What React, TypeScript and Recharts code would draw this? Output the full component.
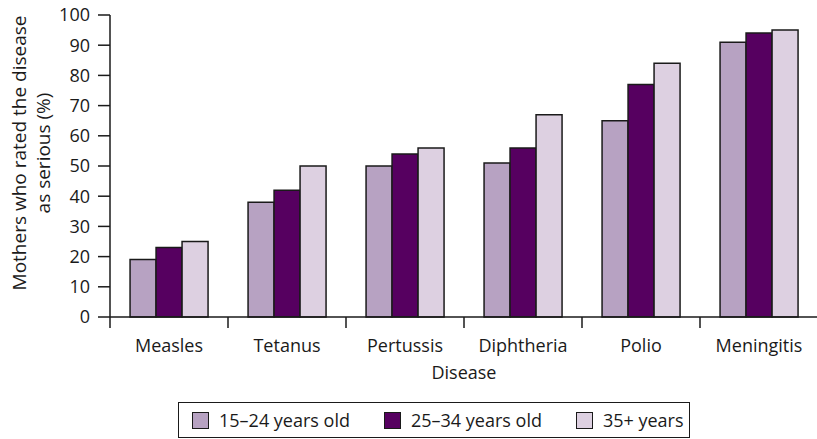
import { BarChart, Bar, XAxis, YAxis, Legend } from 'recharts';

const diseases = ['Measles', 'Tetanus', 'Pertussis', 'Diphtheria', 'Polio', 'Meningitis'];
const age15to24 = [19, 38, 50, 51, 65, 91];
const age25to34 = [23, 42, 54, 56, 77, 94];
const age35plus = [25, 50, 56, 67, 84, 95];
const yTicks = [0, 10, 20, 30, 40, 50, 60, 70, 80, 90, 100];

const data = diseases.map((name, i) => ({
  name,
  a: age15to24[i],
  b: age25to34[i],
  c: age35plus[i],
}));

const FONT = '"Open Sans", sans-serif';
const INK = '#1a1a1a';

function CategoryTick(props: any) {
  const { x, y, payload } = props;
  const half = payload && payload.offset ? payload.offset : 59;
  return (
    <g>
      <line x1={x - half} y1={y - 8} x2={x - half} y2={y + 3} stroke={INK} strokeWidth={1.5} />
      <text x={x} y={y + 27} textAnchor="middle" fontFamily={FONT} fontSize={18} fill={INK}>
        {payload.value}
      </text>
    </g>
  );
}

function YLabel(props: any) {
  const vb = props.viewBox || {};
  const cy = (vb.y || 15) + (vb.height || 302) / 2 - 13;
  return (
    <g fontFamily={FONT} fontSize={19} fill={INK}>
      <text x={19} y={cy} textAnchor="middle" dominantBaseline="central" transform={`rotate(-90 19 ${cy})`}>
        Mothers who rated the disease
      </text>
      <text x={43} y={cy} textAnchor="middle" dominantBaseline="central" transform={`rotate(-90 43 ${cy})`}>
        as serious (%)
      </text>
    </g>
  );
}

function LegendBox(props: any) {
  const items = props.payload || [];
  return (
    <div
      style={{
        border: `1.5px solid ${INK}`,
        height: 36,
        display: 'flex',
        alignItems: 'center',
        boxSizing: 'border-box',
        paddingLeft: 13,
        fontFamily: FONT,
        fontSize: 18,
        color: INK,
      }}
    >
      {items.map((it: any, i: number) => (
        <div key={i} style={{ display: 'flex', alignItems: 'center', marginRight: i < items.length - 1 ? 34 : 0 }}>
          <span
            style={{
              display: 'inline-block',
              width: 15,
              height: 15,
              background: it.color,
              border: `1px solid ${INK}`,
              marginRight: 10,
            }}
          />
          <span>{it.value}</span>
        </div>
      ))}
    </div>
  );
}

export default function App() {
  return (
    <div style={{ position: 'absolute', left: 0, top: 0, background: '#fff' }}>
      <BarChart
        width={818}
        height={439}
        data={data}
        margin={{ top: 15, right: 0, bottom: 62, left: 0 }}
        barCategoryGap="17%"
        barGap={0}
      >
        <XAxis
          dataKey="name"
          axisLine={{ stroke: INK, strokeWidth: 1.5 }}
          tickLine={false}
          tick={<CategoryTick />}
          interval={0}
          height={60}
          label={{ value: 'Disease', position: 'insideBottom', offset: 0, dy: 2, fontFamily: FONT, fontSize: 18, fill: INK }}
        />
        <YAxis
          domain={[0, 100]}
          ticks={yTicks}
          width={110}
          interval={0}
          axisLine={{ stroke: INK, strokeWidth: 1.5 }}
          tickLine={{ stroke: INK, strokeWidth: 1.5 }}
          tickSize={12}
          tickMargin={8}
          tick={{ fontFamily: FONT, fontSize: 18, fill: INK }}
          label={<YLabel />}
        />
        <Legend
          layout="horizontal"
          verticalAlign="middle"
          align="center"
          content={<LegendBox />}
          wrapperStyle={{ top: 402, left: 178, width: 512, height: 36 }}
        />
        <Bar dataKey="a" name="15–24 years old" fill="#b7a2c2" stroke={INK} strokeWidth={1.5} isAnimationActive={false} />
        <Bar dataKey="b" name="25–34 years old" fill="#560060" stroke={INK} strokeWidth={1.5} isAnimationActive={false} />
        <Bar dataKey="c" name="35+ years" fill="#ddd0e1" stroke={INK} strokeWidth={1.5} isAnimationActive={false} />
      </BarChart>
    </div>
  );
}
